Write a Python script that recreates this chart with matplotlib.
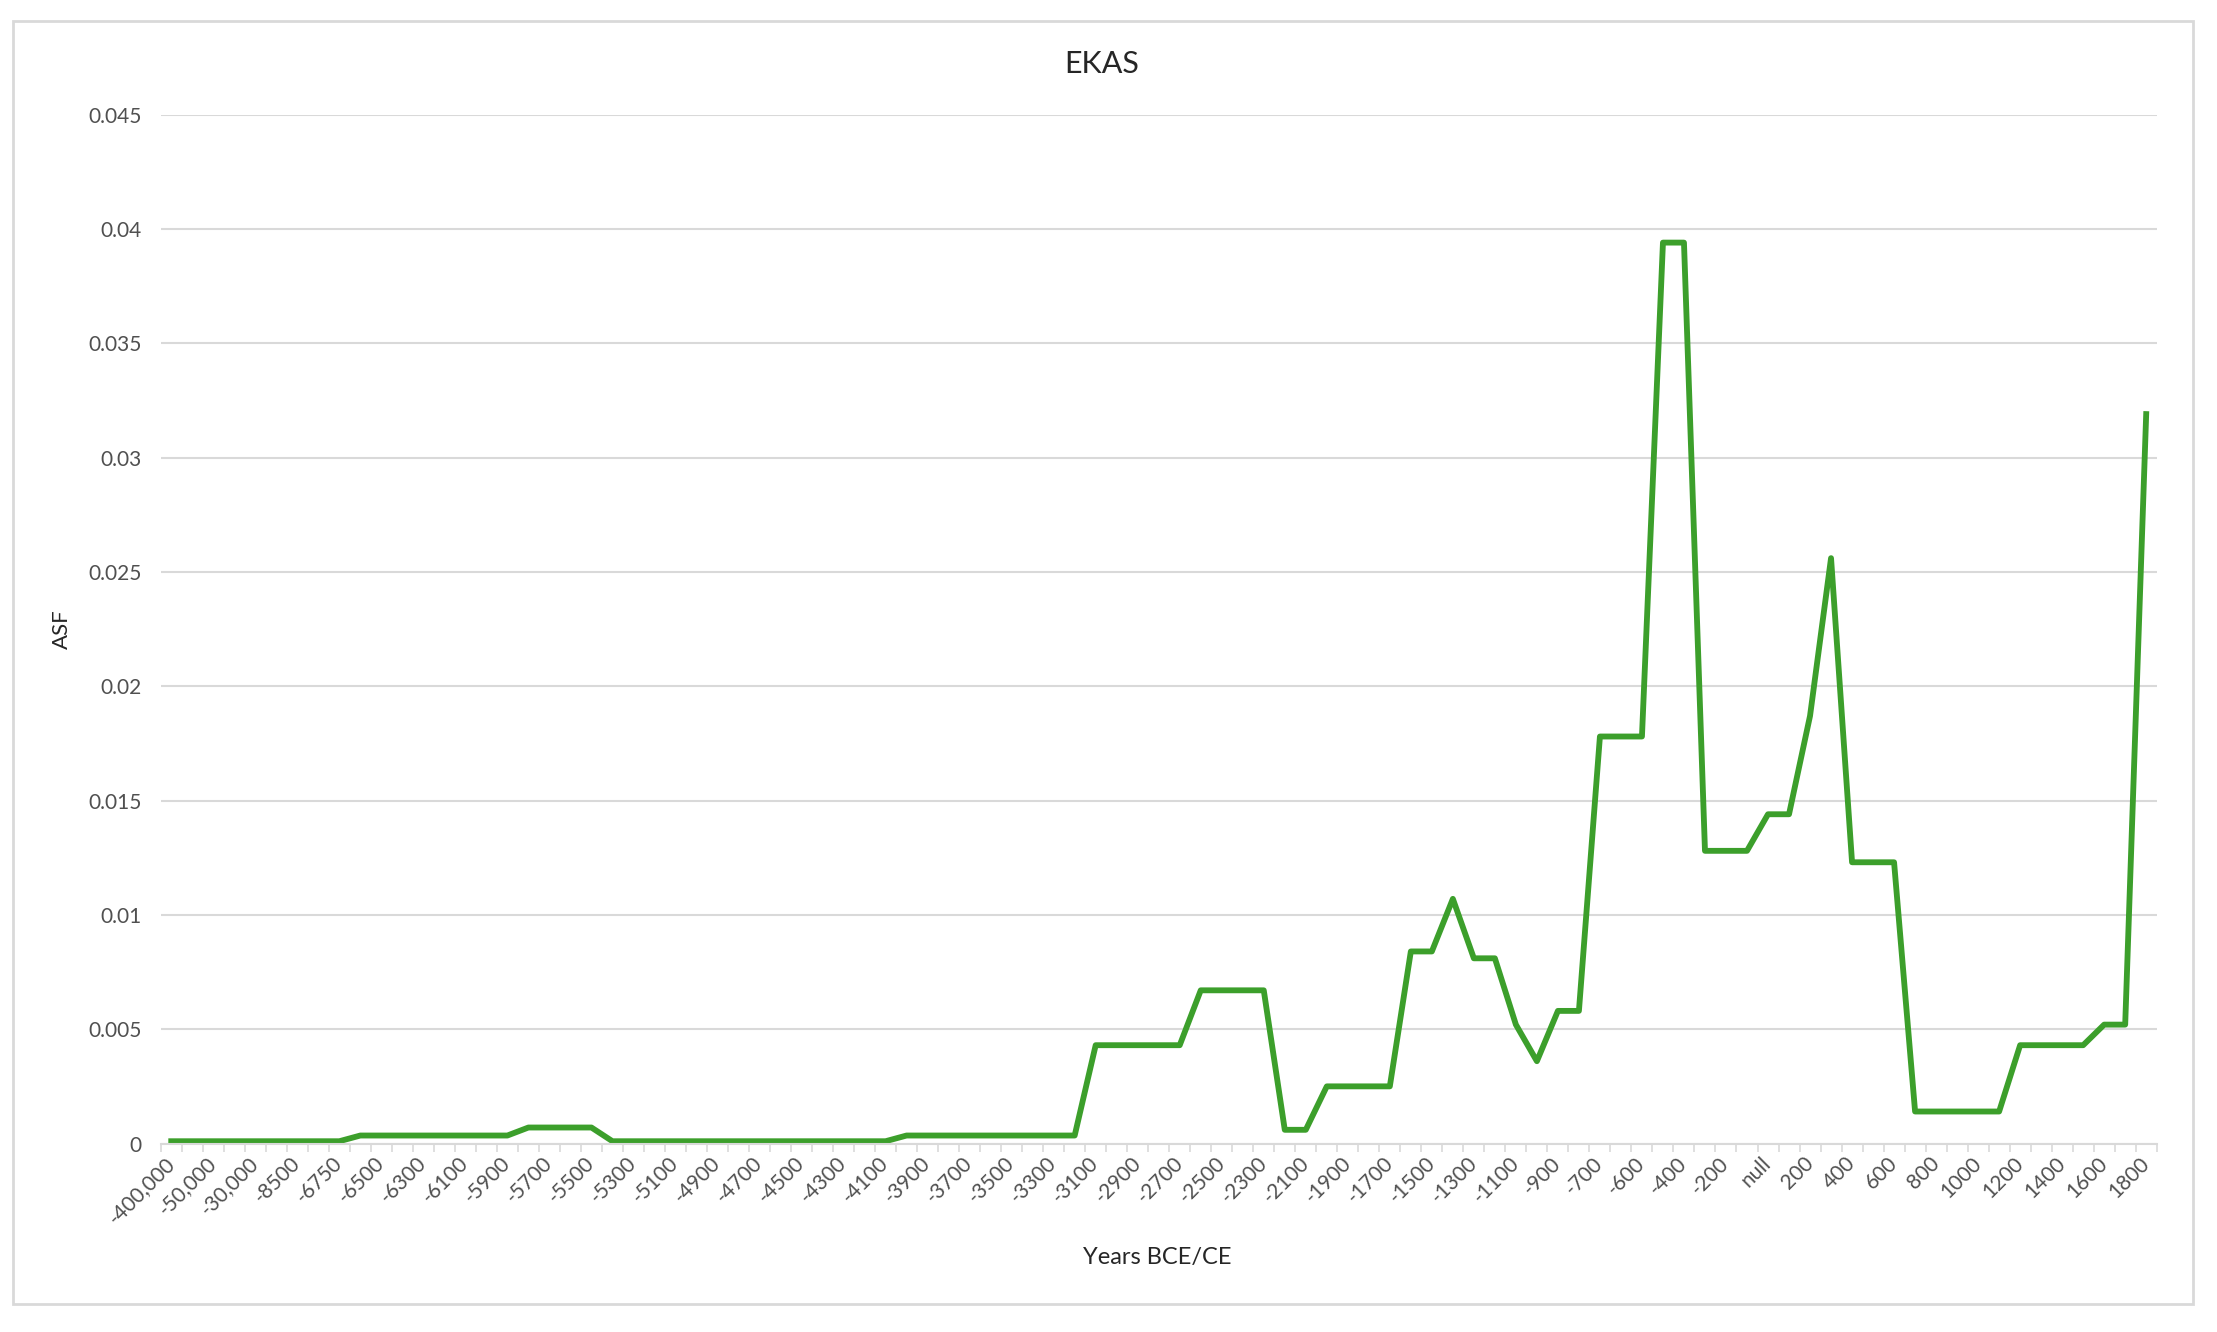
import matplotlib
matplotlib.use("Agg")
import matplotlib.pyplot as plt
from matplotlib.patches import Rectangle
from matplotlib.ticker import FixedLocator

plt.rcParams['font.family'] = ['Lato', 'DejaVu Sans']

# categories (only every other one is labelled on the axis)
years = ["-400,000", "-100,000", "-50,000", "-40,000", "-30,000", "-10,000",
         "-8500", "-7000", "-6750", "-6600",
         "-6500", "-6400", "-6300", "-6200", "-6100", "-6000", "-5900", "-5800",
         "-5700", "-5600", "-5500", "-5400", "-5300", "-5200", "-5100", "-5000",
         "-4900", "-4800", "-4700", "-4600", "-4500", "-4400", "-4300", "-4200",
         "-4100", "-4000", "-3900", "-3800", "-3700", "-3600", "-3500", "-3400",
         "-3300", "-3200", "-3100", "-3000", "-2900", "-2800", "-2700", "-2600",
         "-2500", "-2400", "-2300", "-2200", "-2100", "-2000", "-1900", "-1800",
         "-1700", "-1600", "-1500", "-1400", "-1300", "-1200", "-1100", "-1000",
         "-900", "-800", "-700", "-650", "-600", "-500", "-400", "-300", "-200",
         "-100", "null", "100", "200", "300", "400", "500", "600", "700", "800",
         "900", "1000", "1100", "1200", "1300", "1400", "1500", "1600", "1700",
         "1800"]

asf = [0.0001, 0.0001, 0.0001, 0.0001, 0.0001, 0.0001, 0.0001, 0.0001, 0.0001,
       0.00035, 0.00035, 0.00035, 0.00035, 0.00035, 0.00035, 0.00035, 0.00035,
       0.0007, 0.0007, 0.0007, 0.0007,
       0.0001, 0.0001, 0.0001, 0.0001, 0.0001, 0.0001, 0.0001, 0.0001, 0.0001,
       0.0001, 0.0001, 0.0001, 0.0001, 0.0001,
       0.00035, 0.00035, 0.00035, 0.00035, 0.00035, 0.00035, 0.00035, 0.00035,
       0.00035,
       0.0043, 0.0043, 0.0043, 0.0043, 0.0043,
       0.0067, 0.0067, 0.0067, 0.0067,
       0.0006, 0.0006,
       0.0025, 0.0025, 0.0025, 0.0025,
       0.0084, 0.0084, 0.0107, 0.0081, 0.0081, 0.0052, 0.0036, 0.0058, 0.0058,
       0.0178, 0.0178, 0.0178, 0.0394, 0.0394,
       0.0128, 0.0128, 0.0128, 0.0144, 0.0144, 0.0187, 0.0256,
       0.0123, 0.0123, 0.0123,
       0.0014, 0.0014, 0.0014, 0.0014, 0.0014,
       0.0043, 0.0043, 0.0043, 0.0043,
       0.0052, 0.0052, 0.0319]

yticks = [0, 0.005, 0.01, 0.015, 0.02, 0.025, 0.03, 0.035, 0.04, 0.045]

grey = '#505050'
fig = plt.figure(figsize=(22.17, 13.32), dpi=100)
ax = fig.add_axes([0.0725, 0.1415, 0.9003, 0.7725])

x = list(range(len(years)))
ax.plot(x, asf, color='#3c9f2b', lw=4.2)

ax.set_xlim(-0.5, len(years) - 0.5)
ax.set_ylim(0, 0.045)
ax.set_yticks(yticks)
ax.set_yticklabels(['{:g}'.format(v) for v in yticks])
ax.yaxis.grid(True, color='#d9d9d9', lw=1.5)
ax.set_axisbelow(True)
ax.tick_params(axis='y', length=0, labelsize=15, labelcolor=grey, pad=14)

for s in ['top', 'right', 'left']:
    ax.spines[s].set_visible(False)
ax.spines['bottom'].set_color('#d9d9d9')
ax.spines['bottom'].set_linewidth(1.5)

ax.set_xticks(x[::2])
ax.set_xticklabels(years[::2], rotation=45, ha='right', va='center',
                   rotation_mode='anchor')
ax.xaxis.set_minor_locator(FixedLocator([i - 0.5 for i in range(len(years) + 1)]))
ax.tick_params(axis='x', which='major', length=0, labelsize=15,
               labelcolor=grey, pad=12)
ax.tick_params(axis='x', which='minor', length=6, width=1.2, color='#d9d9d9')

fig.text(0.497, 0.952, 'EKAS', ha='center', va='center', fontsize=22,
         color='#262626')
fig.text(0.028, 0.528, 'ASF', ha='center', va='center', rotation=90,
         fontsize=16, color='#262626')
fig.text(0.522, 0.0556, 'Years BCE/CE', ha='center', va='center',
         fontsize=17, color='#262626')

fig.patches.append(Rectangle((0.006, 0.021), 0.983, 0.963,
                             transform=fig.transFigure, fill=False,
                             ec='#d9d9d9', lw=2))

fig.savefig('out.png', dpi=100)
